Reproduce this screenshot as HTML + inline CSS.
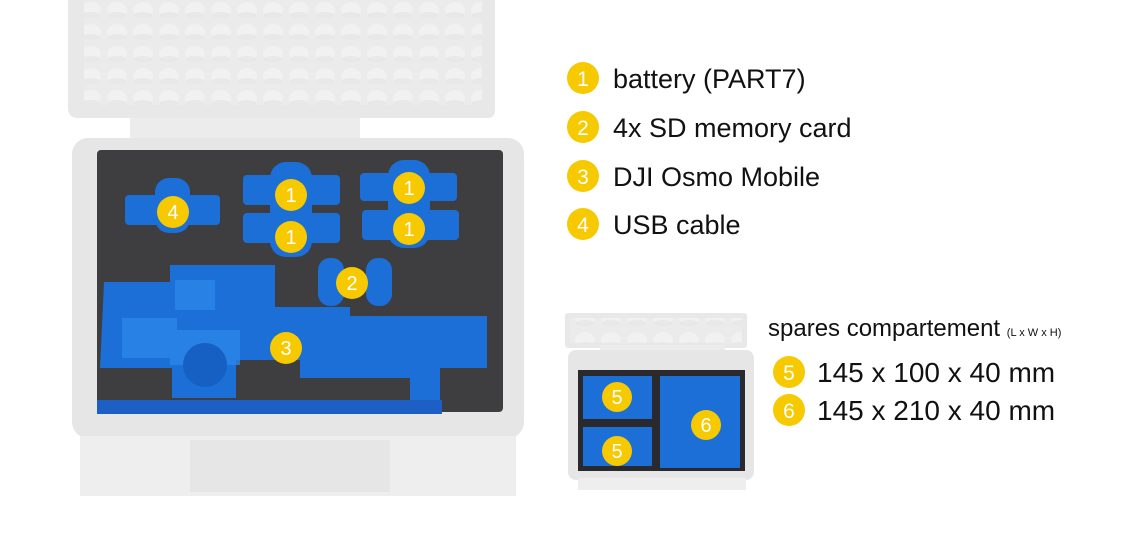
<!DOCTYPE html>
<html><head><style>
html,body{margin:0;padding:0;background:#fff;}
svg{display:block;}
text{font-family:"Liberation Sans",Arial,sans-serif;}
</style></head><body>
<svg width="1124" height="541" viewBox="0 0 1124 541" xmlns="http://www.w3.org/2000/svg">
<defs>
<pattern id="bump" width="26" height="22" patternUnits="userSpaceOnUse">
<rect width="26" height="22" fill="#ebebeb"/>
<ellipse cx="13" cy="10" rx="10" ry="8" fill="#f1f1f1"/>
<ellipse cx="13" cy="15" rx="9" ry="3" fill="#e2e2e2" opacity="0.6"/>
</pattern>
</defs>
<!-- main case lid -->
<path d="M68 0 H495 V110 Q495 118 488 118 H360 V125 H130 V118 H78 Q68 118 68 108 Z" fill="#e8e8e8"/>
<rect x="84" y="0" width="398" height="105" fill="url(#bump)"/>
<rect x="130" y="118" width="230" height="20" fill="#ececec"/>
<!-- main case body -->
<rect x="72" y="138" width="452" height="300" rx="16" fill="#e6e6e6"/>
<rect x="80" y="436" width="436" height="60" fill="#eeeeee"/>
<rect x="190" y="440" width="200" height="52" fill="#e6e6e6"/>
<!-- foam -->
<rect x="97" y="150" width="406" height="262" rx="4" fill="#3e3e40"/>
<rect x="97" y="400" width="345" height="14" fill="#1d5fc4"/>
<!-- blue cutouts -->
<g fill="#1b6fd6">
<rect x="125" y="195" width="95" height="30" rx="4"/>
<rect x="155" y="178" width="35" height="55" rx="14"/>
<rect x="243" y="175" width="97" height="30" rx="4"/>
<rect x="270" y="162" width="42" height="95" rx="16"/>
<rect x="243" y="213" width="97" height="30" rx="4"/>
<rect x="360" y="173" width="97" height="28" rx="4"/>
<rect x="388" y="160" width="42" height="88" rx="16"/>
<rect x="362" y="210" width="97" height="30" rx="4"/>
<rect x="318" y="258" width="26" height="48" rx="12"/>
<rect x="366" y="258" width="26" height="48" rx="12"/>
<rect x="170" y="265" width="105" height="35" rx="3"/>
<path d="M104 282 H170 V265 H275 V307 H350 V316 H487 V368 H440 V400 H410 V378 H300 V360 H236 V398 H172 V368 H100 Z"/>
<rect x="410" y="322" width="30" height="56" rx="14"/>
</g>
<g fill="#2c86e8" opacity="0.8">
<rect x="122" y="318" width="55" height="40"/>
<rect x="170" y="330" width="70" height="35"/>
<rect x="175" y="280" width="40" height="30"/>
</g>
<circle cx="205" cy="365" r="22" fill="#1660c4"/>
<!-- yellow markers main -->
<g fill="#f6c900">
<circle cx="173" cy="212" r="16"/><circle cx="291" cy="195" r="16"/><circle cx="291" cy="237" r="16"/>
<circle cx="409" cy="188" r="16"/><circle cx="409" cy="229" r="16"/><circle cx="352" cy="283" r="16"/>
<circle cx="286" cy="348" r="16"/>
</g>
<g fill="#fff" font-size="20" text-anchor="middle">
<text x="173" y="219">4</text><text x="291" y="202">1</text><text x="291" y="244">1</text>
<text x="409" y="195">1</text><text x="409" y="236">1</text><text x="352" y="290">2</text>
<text x="286" y="355">3</text>
</g>
<!-- small case -->
<rect x="565" y="313" width="182" height="35" rx="3" fill="#e8e8e8"/>
<rect x="570" y="318" width="172" height="25" fill="url(#bump)"/>
<rect x="600" y="345" width="125" height="8" fill="#ebebeb"/>
<rect x="568" y="350" width="186" height="130" rx="8" fill="#e6e6e6"/>
<rect x="578" y="478" width="168" height="12" fill="#eeeeee"/>
<rect x="578" y="370" width="167" height="101" fill="#2a2a2e"/>
<rect x="583" y="376" width="69" height="43" fill="#1b6fd6"/>
<rect x="583" y="427" width="69" height="39" fill="#1b6fd6"/>
<rect x="660" y="376" width="80" height="92" fill="#1b6fd6"/>
<g fill="#f6c900"><circle cx="617" cy="397" r="15"/><circle cx="617" cy="451" r="15"/><circle cx="706" cy="425" r="15"/></g>
<g fill="#fff" font-size="20" text-anchor="middle">
<text x="617" y="404">5</text><text x="617" y="458">5</text><text x="706" y="432">6</text>
</g>
<!-- legend -->
<g fill="#f6c900">
<circle cx="583" cy="78" r="16"/><circle cx="583" cy="127" r="16"/><circle cx="583" cy="176" r="16"/><circle cx="583" cy="224" r="16"/>
<circle cx="789" cy="372" r="16"/><circle cx="789" cy="410" r="16"/>
</g>
<g fill="#fff" font-size="21" text-anchor="middle">
<text x="583" y="86">1</text><text x="583" y="135">2</text><text x="583" y="184">3</text><text x="583" y="232">4</text>
<text x="789" y="380">5</text><text x="789" y="418">6</text>
</g>
<g fill="#111" font-size="27">
<text x="613" y="88">battery (PART7)</text>
<text x="613" y="137">4x SD memory card</text>
<text x="613" y="186">DJI Osmo Mobile</text>
<text x="613" y="234">USB cable</text>
</g>
<text x="768" y="336" font-size="24" fill="#111">spares compartement <tspan font-size="11">(L x W x H)</tspan></text>
<text x="817" y="382" font-size="28" fill="#111">145 x 100 x 40 mm</text>
<text x="817" y="420" font-size="28" fill="#111">145 x 210 x 40 mm</text>
</svg>
</body></html>
